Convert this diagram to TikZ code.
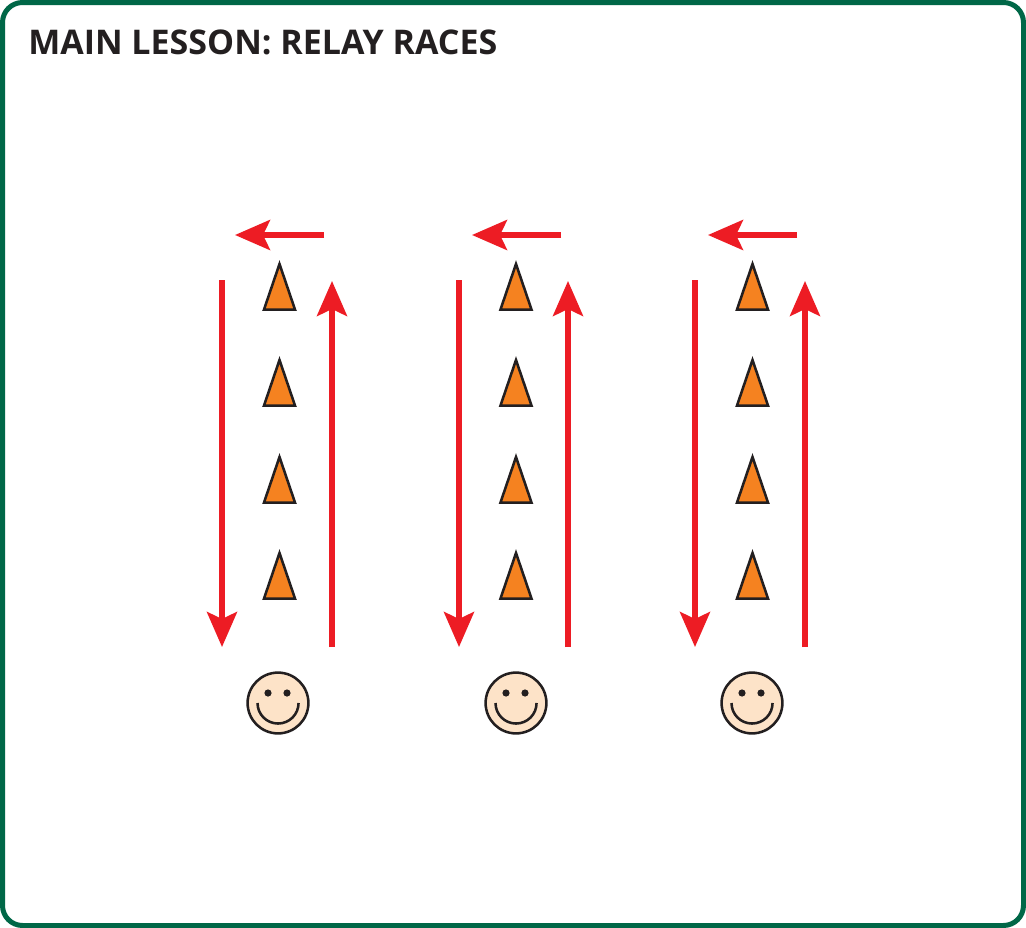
\documentclass[tikz,border=0pt]{standalone}
\usepackage{fontspec}
\setmainfont{Open Sans}
\usetikzlibrary{arrows.meta,shapes.geometric}
\definecolor{verdeborde}{HTML}{006747}
\definecolor{rojoflecha}{HTML}{ED1C24}
\definecolor{naranjacono}{HTML}{F58220}
\definecolor{pielcara}{HTML}{FDE3C8}
\definecolor{tinta}{HTML}{231F20}
\begin{document}
\begin{tikzpicture}[x=0.75pt,y=-0.75pt]
\tikzstyle{flecha}=[rojoflecha,line width=4pt,-{Stealth[length=26.25pt,width=22.5pt,inset=5.25pt]}]% define el trazado de cada recorrido
\tikzstyle{cono}=[isosceles triangle,shape border rotate=90,isosceles triangle apex angle=37.6,draw=tinta,fill=naranjacono,line width=1.9pt,inner sep=0pt,outer sep=0pt,minimum height=34.2pt,anchor=apex]% define cada cono
\tikzstyle{cara}=[circle,draw=tinta,fill=pielcara,line width=1.9pt,inner sep=0pt,outer sep=0pt,minimum size=45.6pt]% define cada cara
\tikzstyle{ojo}=[circle,fill=tinta,inner sep=0pt,minimum size=5.4pt]
\useasboundingbox (0,0) rectangle (1026,928);
\draw[verdeborde,line width=3.75pt,rounded corners=15pt,fill=white] (2.5,2.5) rectangle (1023.5,925.5);%marco
\node[anchor=base west,inner sep=0pt,text=tinta,font=\fontsize{25.5}{30}\selectfont\bfseries] (titulo) at (28,54.5) {MAIN LESSON: RELAY RACES};
\foreach \c/\xc/\xcono/\xizq/\xder/\xfin/\xpunta in {1/278/279.5/222/332/324/235,2/516/516/459/568/561/472,3/752/752.5/695/805/797/708}{
  \foreach \f/\ycono in {1/264,2/360,3/457,4/553}
    \node[cono] (cono\c\f) at (\xcono,\ycono) {};
  \node[cara] (cara\c) at (\xc,703) {};%cabeza
  \node[ojo] (ojoa\c) at (\xc-10,693) {};
  \node[ojo] (ojob\c) at (\xc+9,693) {};
  \draw[tinta,line width=1.9pt] ([shift={(-20.5,0)}]cara\c.center) arc[start angle=180,end angle=360,radius=15.4pt];%sonrisa
  \coordinate (bajaini\c) at (\xizq,280);
  \coordinate (bajafin\c) at (\xizq,647);
  \coordinate (subeini\c) at (\xder,647);
  \coordinate (subefin\c) at (\xder,281);
  \coordinate (vaini\c) at (\xfin,235);
  \coordinate (vafin\c) at (\xpunta,235);
  \draw[flecha] (bajaini\c) -- (bajafin\c);
  \draw[flecha] (subeini\c) -- (subefin\c);
  \draw[flecha] (vaini\c) -- (vafin\c);
}
\end{tikzpicture}
\end{document}
